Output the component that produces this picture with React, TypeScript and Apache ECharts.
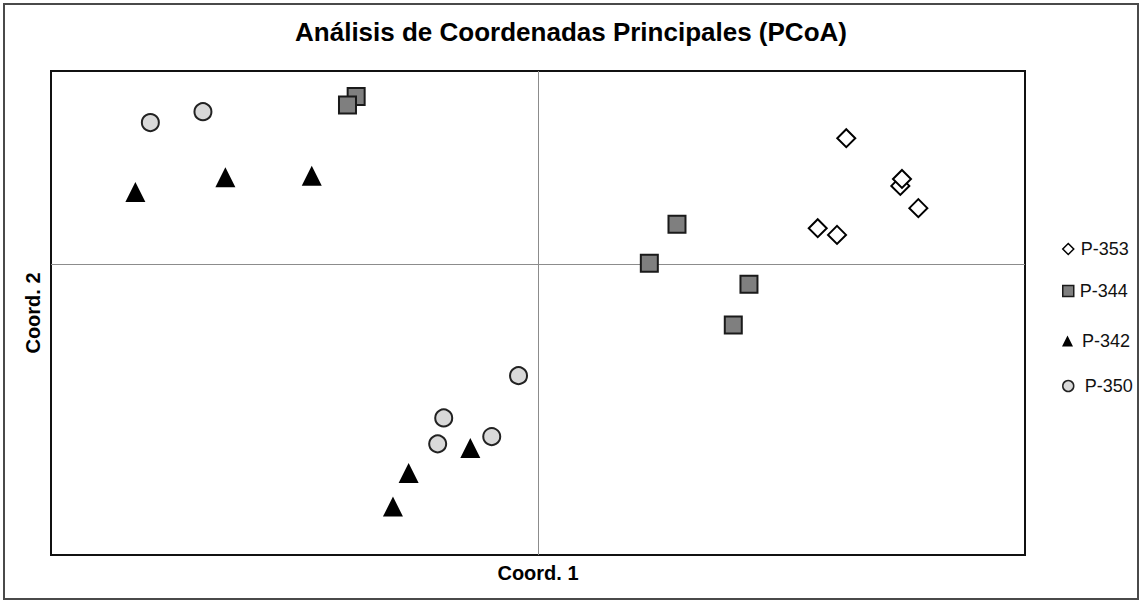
import React, { useEffect, useRef } from "react";
import * as echarts from "echarts";

const titleText = "Análisis de Coordenadas Principales (PCoA)";
const xAxisName = "Coord. 1";
const yAxisName = "Coord. 2";

const seriesNames = ["P-353", "P-344", "P-342", "P-350"];

// P-353 (diamonds)
const p353X = [0.3165, 0.372, 0.3737, 0.3905, 0.2872, 0.307];
const p353Y = [0.1306, 0.0813, 0.0885, 0.0583, 0.0376, 0.0307];

// P-344 (squares)
const p344X = [-0.1867, -0.1956, 0.1427, 0.1143, 0.2166, 0.2005];
const p344Y = [0.1736, 0.1648, 0.0417, 0.0014, -0.0202, -0.0623];

// P-342 (triangles)
const p342X = [-0.4134, -0.321, -0.2323, -0.0695, -0.1328, -0.1489];
const p342Y = [0.0751, 0.0903, 0.0919, -0.1894, -0.2152, -0.25];

// P-350 (circles)
const p350X = [-0.398, -0.344, -0.02, -0.0968, -0.103, -0.0475];
const p350Y = [0.1467, 0.158, -0.1147, -0.1584, -0.1852, -0.1777];

const xMin = -0.5;
const xMax = 0.5;
const yMin = -0.3;
const yMax = 0.2;

const zip = (xs: number[], ys: number[]) => xs.map((x, i) => [x, ys[i]]);

const FONT = "'Liberation Sans', Arial, sans-serif";

export default function App() {
  const ref = useRef<HTMLDivElement>(null);

  useEffect(() => {
    if (!ref.current) return;
    const chart = echarts.init(ref.current, undefined, { renderer: "svg" });

    const styles = [
      { symbol: "diamond", size: 18, color: "#ffffff", border: "#000000", bw: 2 },
      { symbol: "rect", size: 17, color: "#7f7f7f", border: "#1a1a1a", bw: 2 },
      { symbol: "triangle", size: 20, color: "#000000", border: "#000000", bw: 0 },
      { symbol: "circle", size: 17, color: "#d9d9d9", border: "#222222", bw: 2 },
    ];
    const dataSets = [
      zip(p353X, p353Y),
      zip(p344X, p344Y),
      zip(p342X, p342Y),
      zip(p350X, p350Y),
    ];
    const legendTops = [235, 277, 327, 372];
    const legendPad = [2, 1, 4, 6];

    const series: any[] = seriesNames.map((name, i) => ({
      name,
      type: "scatter",
      symbol: styles[i].symbol,
      symbolSize: styles[i].size,
      data: dataSets[i],
      itemStyle: {
        color: styles[i].color,
        borderColor: styles[i].border,
        borderWidth: styles[i].bw,
        opacity: 1,
      },
      emphasis: { disabled: true },
      z: 3,
    }));

    series[0].markLine = {
      silent: true,
      symbol: "none",
      label: { show: false },
      lineStyle: { color: "#8c8c8c", width: 1, type: "solid" },
      data: [{ xAxis: 0 }, { yAxis: 0 }],
      z: 1,
    };

    const legends = seriesNames.map((name, i) => ({
      show: true,
      data: [
        {
          name,
          icon: styles[i].symbol,
          itemStyle: {
            color: styles[i].color,
            borderColor: styles[i].border,
            borderWidth: styles[i].bw ? 1.5 : 0,
          },
        },
      ],
      left: 1057,
      top: legendTops[i],
      itemWidth: 11,
      itemHeight: 11,
      selectedMode: false,
      textStyle: {
        fontFamily: FONT,
        fontSize: 18,
        color: "#111",
        padding: [0, 0, 0, legendPad[i]],
      },
    }));

    chart.setOption({
      animation: false,
      backgroundColor: "#ffffff",
      title: {
        text: titleText,
        left: "center",
        top: 14,
        textStyle: {
          fontFamily: FONT,
          fontSize: 26,
          fontWeight: "bold",
          color: "#000",
        },
      },
      legend: legends,
      grid: {
        left: 51,
        top: 71,
        right: 117,
        bottom: 48,
        show: true,
        borderColor: "#111",
        borderWidth: 2,
        backgroundColor: "transparent",
      },
      xAxis: {
        type: "value",
        min: xMin,
        max: xMax,
        name: xAxisName,
        nameLocation: "middle",
        nameGap: 8,
        nameTextStyle: {
          fontFamily: FONT,
          fontSize: 20,
          fontWeight: "bold",
          color: "#000",
          verticalAlign: "top",
        },
        axisLine: { show: false },
        axisTick: { show: false },
        axisLabel: { show: false },
        splitLine: { show: false },
      },
      yAxis: {
        type: "value",
        min: yMin,
        max: yMax,
        name: yAxisName,
        nameLocation: "middle",
        nameGap: 8,
        nameTextStyle: {
          fontFamily: FONT,
          fontSize: 20,
          fontWeight: "bold",
          color: "#000",
        },
        axisLine: { show: false },
        axisTick: { show: false },
        axisLabel: { show: false },
        splitLine: { show: false },
      },
      graphic: [
        {
          type: "rect",
          shape: { x: 4, y: 4, width: 1134, height: 595 },
          style: { fill: "none", stroke: "#4a4a4a", lineWidth: 2 },
          silent: true,
          z: 0,
        },
      ],
      series,
    });

    return () => chart.dispose();
  }, []);

  return (
    <div
      ref={ref}
      style={{ position: "fixed", left: 0, top: 0, width: 1142, height: 603 }}
    />
  );
}
